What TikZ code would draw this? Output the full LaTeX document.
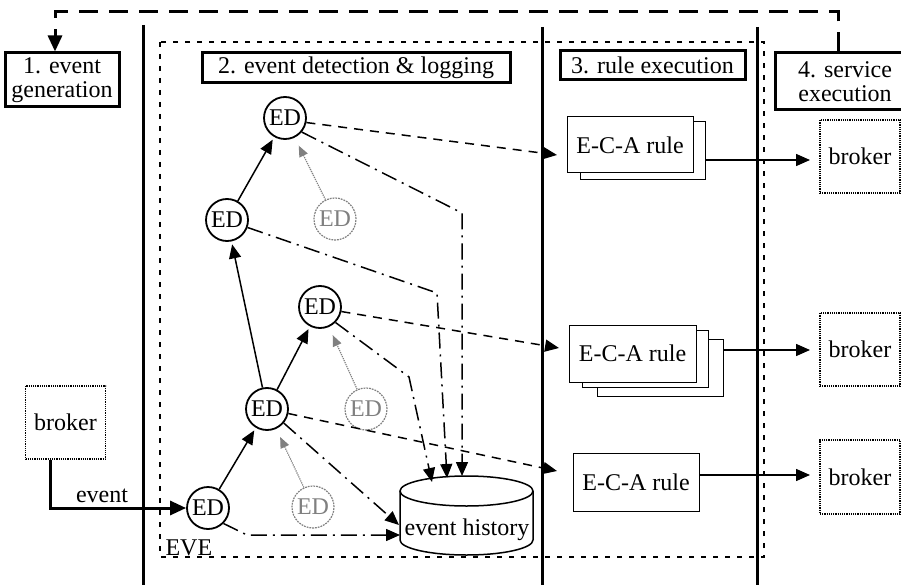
\documentclass[tikz,border=0pt]{standalone}
\usepackage{fontspec}
\setmainfont{Liberation Serif}
\usetikzlibrary{arrows.meta,calc}
\begin{document}
\begin{tikzpicture}[x=1pt,y=-1pt,
  lblfont/.style={font=\fontsize{24}{24}\selectfont},
  hdr/.style={draw, line width=3pt, inner sep=0pt, align=center, lblfont},
  ednode/.style={circle, draw, line width=1.8pt, minimum size=42pt, inner sep=0pt, font=\fontsize{24}{24}\selectfont},
  gednode/.style={ednode, draw=gray, densely dotted, line width=1.2pt, text=gray},
  ecabox/.style={draw, line width=1pt, fill=white, minimum width=126pt, minimum height=57pt, inner sep=0pt, lblfont},
  brkbox/.style={draw, densely dotted, line width=1.2pt, minimum width=80pt, minimum height=73pt, inner sep=0pt, lblfont},
  tip/.style={-{Triangle[length=14pt,width=12pt]}},
  solidarr/.style={line width=1.5pt, tip, shorten >=3pt},
  grayarr/.style={gray, densely dotted, line width=1.2pt, -{Triangle[length=11pt,width=9pt]}, shorten >=9pt},
  ecadash/.style={dash pattern=on 9pt off 7pt, line width=1.5pt, tip},
  histdash/.style={dash pattern=on 16pt off 6pt on 2pt off 6pt, line width=1.5pt, tip},
  thickline/.style={line width=3pt},
  thickarr/.style={line width=3pt, -{Triangle[length=16pt,width=14pt]}},
  fbdash/.style={line width=3pt, dash pattern=on 19pt off 11pt, -{Triangle[length=16pt,width=14pt]}},
  regiondash/.style={line width=1.5pt, dash pattern=on 5pt off 7pt},
  outline/.style={line width=1.5pt}
]
\useasboundingbox (0,0) rectangle (901,585);

% swimlane separators and EVE region
\draw[thickline] (143,25) -- (143,585);
\draw[thickline] (542,27) -- (542,585);
\draw[thickline] (757,27) -- (757,585);
\draw[regiondash] (160,42) rectangle (764,557);
\node[lblfont, anchor=west] (eve) at (162,548) {EVE};

% headers
\node[hdr, minimum width=114pt, minimum height=54pt] (h1) at (62,80) {1. event\\generation};
\node[hdr, minimum width=308pt, minimum height=30pt] (h2) at (356,68) {2. event detection \& logging};
\node[hdr, minimum width=185pt, minimum height=29pt] (h3) at (652.5,65.5) {3. rule execution};
\node[hdr, minimum width=140pt, minimum height=57pt] (h4) at (845,81.5) {4. service\\execution};

% feedback
\coordinate (fbA) at (838,12);
\coordinate (fbB) at (55,12);
\draw[fbdash] (h4.north -| fbA) -- (fbA) -- (fbB) -- (h1.north -| fbB);

% event detectors
\node[ednode] (e1) at (208,508) {ED};
\node[ednode] (e2) at (267,409) {ED};
\node[ednode] (e3) at (320,307) {ED};
\node[ednode] (e4) at (227,220) {ED};
\node[ednode] (e5) at (285,118) {ED};
\node[gednode] (g1) at (335,219) {ED};
\node[gednode] (g2) at (366,409) {ED};
\node[gednode] (g3) at (313,507) {ED};

\draw[solidarr] (e1) -- (e2);
\draw[solidarr] (e2) -- (e3);
\draw[solidarr] (e2) -- (e4);
\draw[solidarr] (e4) -- (e5);
\draw[grayarr] (g1) -- (e5);
\draw[grayarr] (g2) -- (e3);
\draw[grayarr] (g3) -- (e2);

% event history
\draw[outline, fill=white] (400,491) -- (400,540) arc[start angle=180, end angle=0, x radius=66.5, y radius=15] -- (533,491);
\draw[outline] (466.5,491) ellipse[x radius=66.5, y radius=15];
\node[lblfont] (hist) at (467,530) {event history};

% source broker
\node[brkbox] (b0) at (65.5,422.5) {broker};
\coordinate (ev) at (50,510);
\draw[thickarr] (b0.south -| ev) |- (e1.west);
\node[lblfont] (evlbl) at (102,496) {event};

% rules
\node[ecabox, minimum width=125pt, minimum height=58pt] (eca1b) at (642.5,151) {};
\node[ecabox, minimum height=56pt] (eca1) at (630,145) {E-C-A rule};
\node[ecabox] (eca2c) at (660,367.5) {};
\node[ecabox] (eca2b) at (645,358.5) {};
\node[ecabox, minimum width=127pt] (eca2) at (632.5,353.5) {E-C-A rule};
\node[ecabox, minimum height=58pt] (eca3) at (636,482) {E-C-A rule};

% service brokers
\node[brkbox] (br1) at (860,156.5) {broker};
\node[brkbox] (br2) at (860,349.5) {broker};
\node[brkbox, minimum height=74pt] (br3) at (860,477) {broker};

\coordinate (t1) at (810,160);
\coordinate (t2) at (810,350);
\coordinate (t3) at (810,475);
\draw[solidarr, shorten >=0pt] (eca1b.east |- t1) -- (t1);
\draw[solidarr, shorten >=0pt] (eca2c.east |- t2) -- (t2);
\draw[solidarr, shorten >=0pt] (eca3.east |- t3) -- (t3);

% ED -> rule triggers
\coordinate (d1) at (557,155);
\coordinate (d2) at (559,348);
\coordinate (d3) at (557,471);
\draw[ecadash] (e5.-12) -- (d1);
\draw[ecadash] (e3.-12) -- (d2);
\draw[ecadash] (e2.-12) -- (d3);

% ED -> history logging
\coordinate (c1) at (462,213);
\coordinate (h1t) at (462,476);
\coordinate (c2) at (437,293);
\coordinate (h2t) at (447,478);
\coordinate (c3) at (409,377);
\coordinate (h3t) at (432,482);
\coordinate (h4t) at (399,525);
\coordinate (c5) at (247,535);
\coordinate (h5t) at (400,535);
\draw[histdash] (e5.-40) -- (c1) -- (h1t);
\draw[histdash] (e4.-20) -- (c2) -- (h2t);
\draw[histdash] (e3.-45) -- (c3) -- (h3t);
\draw[histdash] (e2.-40) -- (h4t);
\draw[histdash] (e1.-45) -- (c5) -- (h5t);
\end{tikzpicture}
\end{document}
